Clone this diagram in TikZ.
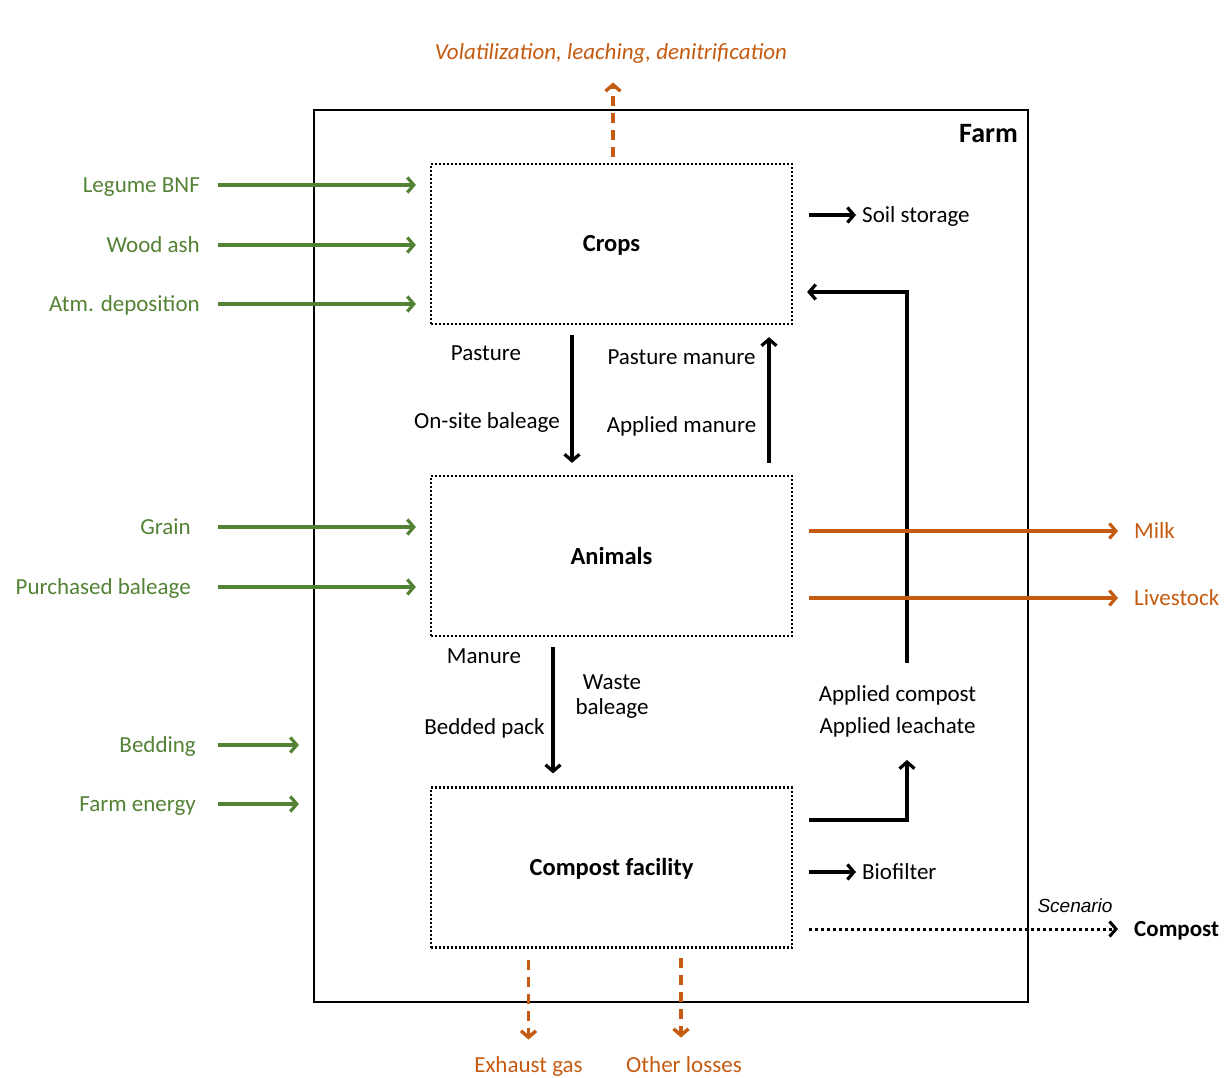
\documentclass[tikz,border=0pt]{standalone}
\usepackage{fontspec}
\setmainfont{Carlito}
\newfontfamily\arialfont{Liberation Sans}
\usetikzlibrary{arrows.meta,positioning}
\definecolor{ingreen}{RGB}{84,130,53}
\definecolor{lossorange}{RGB}{197,90,17}
\newcommand\lblsize{\fontsize{23}{28}\selectfont}

\begin{document}
\begin{tikzpicture}[x=1pt,y=-1pt,font=\lblsize,
  >={Straight Barb[length=6.5pt,width=15pt]},
  pool/.style={draw,line width=2.2pt,dash pattern=on 2pt off 2pt,minimum width=361pt,minimum height=160pt,text height=16pt,text depth=0pt,font=\fontsize{24.5}{28}\selectfont\bfseries},
  lbl/.style={inner sep=0pt,text height=14.5pt,text depth=0pt},
  inlbl/.style={lbl,text=ingreen,anchor=east},
  outlbl/.style={lbl,text=lossorange},
  inflow/.style={->,ingreen,line width=3.2pt},
  outflow/.style={->,lossorange,line width=3.2pt},
  loss/.style={->,lossorange,line width=3.4pt,dash pattern=on 10pt off 7pt},
  flow/.style={->,line width=3.2pt}]

\useasboundingbox (0,0) rectangle (1227,1078);

\node[draw,line width=2.2pt,minimum width=714pt,minimum height=892pt] (farm) at (671,556) {};
\node[lbl,anchor=east,text height=18pt,font=\fontsize{28}{32}\selectfont\bfseries] (farmlbl) at (1018,134) {Farm};

\node[pool] (crops) at (611.5,244) {Crops};
\node[pool] (animals) at (611.5,556) {Animals};
\node[pool] (compost) at (611.5,867.5) {Compost facility};

% purchased inputs
\node[inlbl] (bnf) at (200,185) {Legume BNF};
\node[inlbl] (ash) at (200,245) {Wood ash};
\node[inlbl] (atm) at (200,304) {Atm. deposition};
\node[inlbl] (grain) at (191,527) {Grain};
\node[inlbl] (bale) at (191,587) {Purchased baleage};
\node[inlbl] (bedding) at (196,745) {Bedding};
\node[inlbl] (energy) at (196,804) {Farm energy};

\foreach \src/\gap in {bnf/18,ash/18,atm/18,grain/27,bale/27}
  \draw[inflow] ([xshift=\gap pt]\src.east) -- ([xshift=-14pt]\src.east -| crops.west);
\foreach \src in {bedding,energy}
  \draw[inflow] ([xshift=22pt]\src.east) -- ([xshift=-14pt]\src.east -| farm.west);

% losses
\node[outlbl,font=\lblsize\itshape] (volat) at (611,52) {Volatilization, leaching, denitrification};
\draw[loss] ([xshift=1.5pt,yshift=6pt]crops.north) -- ([xshift=2pt,yshift=-23pt]volat.south);

\node[outlbl] (exhaust) at (528.5,1065) {Exhaust gas};
\node[outlbl] (other) at (684,1065) {Other losses};
\draw[loss] (compost.south -| exhaust) ++(0,11) -- ([yshift=18pt]exhaust.north);
\draw[loss] ([xshift=-3pt]compost.south -| other) ++(0,9) -- ([xshift=-3pt,yshift=20pt]other.north);

% crops <-> animals
\node[lbl] (pasture) at (486,353) {Pasture};
\node[lbl] (onsite) at (487,421) {On-site baleage};
\node[lbl] (pastman) at (681.5,357) {Pasture manure};
\node[lbl] (appman) at (681.5,425) {Applied manure};
\draw[flow] ([xshift=-39.5pt,yshift=-10pt]crops.south) -- ([xshift=-39.5pt,yshift=12pt]animals.north);
\draw[flow] ([xshift=157.5pt,yshift=12pt]animals.north) -- ([xshift=157.5pt,yshift=-12pt]crops.south);

% animals -> compost
\node[lbl] (manure) at (484,656) {Manure};
\node[lbl] (bedpack) at (484.5,727) {Bedded pack};
\node[lbl] (waste) at (612,682) {Waste};
\node[lbl] (wastebale) at (612,707) {baleage};
\draw[flow] ([xshift=-58.5pt,yshift=-10pt]animals.south) -- ([xshift=-58.5pt,yshift=13pt]compost.north);

% compost back to crops
\node[lbl] (appcomp) at (897.5,694) {Applied compost};
\node[lbl] (appleach) at (897.5,726) {Applied leachate};
\coordinate (retout) at (907,663);
\coordinate (retin) at (907,760);
\draw[flow] (retout) |- ([xshift=14pt,yshift=-48pt]crops.east);
\draw[flow] ([xshift=16pt,yshift=47.5pt]compost.east) -| (retin);

% on-farm sinks
\node[lbl,anchor=west] (soil) at (862,215) {Soil storage};
\draw[flow] (crops.east |- soil) ++(16,0) -- ([xshift=-6pt]soil.west);
\node[lbl,anchor=west] (biofilter) at (862,872) {Biofilter};
\draw[flow] (compost.east |- biofilter) ++(16,0) -- ([xshift=-6pt]biofilter.west);

% exports
\node[outlbl,anchor=west] (milk) at (1134,531) {Milk};
\node[outlbl,anchor=west] (livestock) at (1134,598) {Livestock};
\draw[outflow] (animals.east |- milk) ++(16,0) -- ([xshift=-16pt]milk.west);
\draw[outflow] (animals.east |- livestock) ++(16,0) -- ([xshift=-16pt]livestock.west);

\node[lbl,anchor=west,font=\lblsize\bfseries] (compostout) at (1134,929) {Compost};
\node[lbl,font=\arialfont\fontsize{19}{22}\selectfont\itshape] (scenario) at (1075,905) {Scenario};
\draw[->,line width=3pt,dash pattern=on 3pt off 3pt] (compost.east |- compostout) ++(16,0) -- ([xshift=-16pt]compostout.west);
\end{tikzpicture}
\end{document}
